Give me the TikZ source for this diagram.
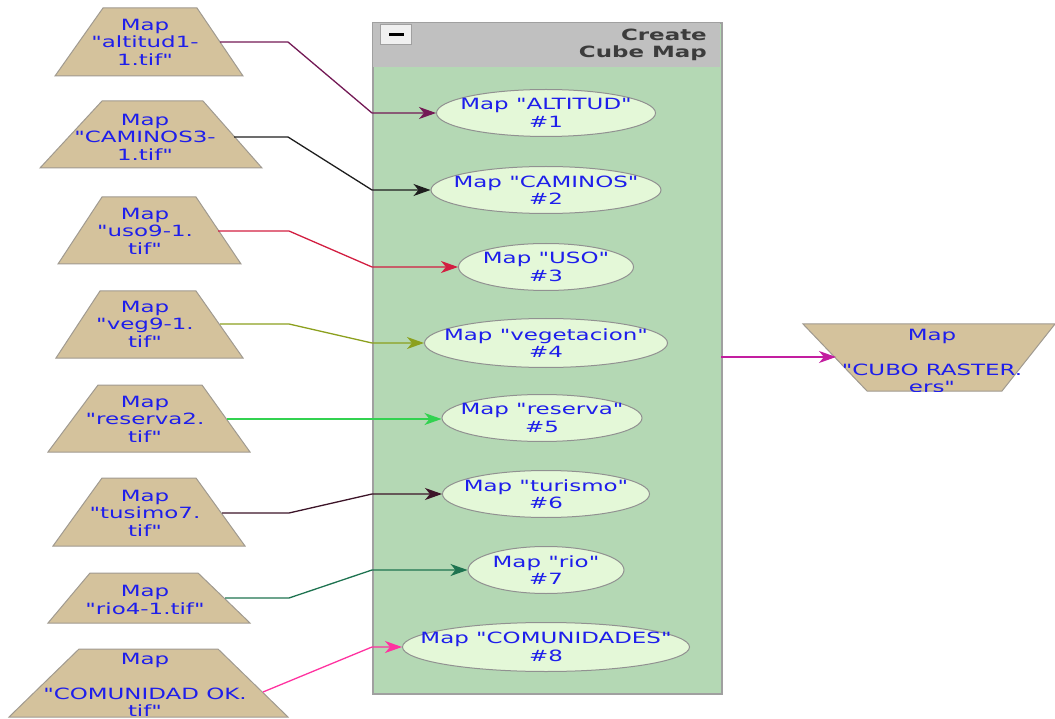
\documentclass[tikz,border=0pt]{standalone}
\usepackage{fontspec}
\setmainfont{DejaVu Sans}[FakeStretch=1.48,Ligatures=TeXOff]
\usetikzlibrary{arrows.meta,shapes.geometric}
\definecolor{trapfill}{RGB}{212,194,156}
\definecolor{trapline}{RGB}{160,154,144}
\definecolor{ellfill}{RGB}{228,248,216}
\definecolor{ellline}{RGB}{145,145,145}
\definecolor{boxfill}{RGB}{180,216,180}
\definecolor{boxhead}{RGB}{192,192,192}
\definecolor{boxline}{RGB}{160,160,160}
\definecolor{txtblue}{RGB}{30,30,235}
\definecolor{titlegray}{RGB}{60,60,60}
\definecolor{cA}{RGB}{115,25,85}
\definecolor{cB}{RGB}{30,30,30}
\definecolor{cC}{RGB}{210,30,65}
\definecolor{cD}{RGB}{140,160,30}
\definecolor{cE}{RGB}{50,210,80}
\definecolor{cF}{RGB}{60,20,40}
\definecolor{cG}{RGB}{30,115,80}
\definecolor{cH}{RGB}{255,50,160}
\definecolor{cOut}{RGB}{195,30,160}
\tikzset{
  trap/.style={fill=trapfill,draw=trapline,line width=1pt},
  lbl/.style={text=txtblue,align=center,inner sep=0pt,font=\fontsize{15.5}{17.5}\selectfont},
  ell/.style={ellipse,fill=ellfill,draw=ellline,line width=1pt,inner sep=0pt,minimum height=47pt},
  conn/.style={line width=1.3pt,-{Stealth[length=17pt,width=12pt,inset=5pt]}},
}
\begin{document}
\begin{tikzpicture}[x=1pt,y=-1pt]
\useasboundingbox (0,0) rectangle (1055,719);
% container
\node[fill=boxfill,draw=boxline,line width=2pt,minimum width=349pt,minimum height=671pt,anchor=north west,inner sep=0pt] (cube) at (372,22) {};
\fill[boxhead] (373,23) rectangle (720,67);
\node[fill=white!94!black,draw=boxline,line width=1pt,minimum width=31pt,minimum height=20pt,inner sep=0pt] (btn) at (396,35) {};
\draw[line width=3pt,black] (389,35) -- (404,35);
\node[text=titlegray,align=right,anchor=east,inner sep=0pt,font=\fontsize{15.5}{16.5}\selectfont\bfseries] (title) at (707,45) {Create\\Cube Map};
% input trapezoids
\path[trap] (103,8) -- (197,8) -- (243,76) -- (55,76) -- cycle;
\path[trap] (102,101) -- (203,101) -- (262,168) -- (40,168) -- cycle;
\path[trap] (102,197) -- (196,197) -- (241,264) -- (58,264) -- cycle;
\path[trap] (100,291) -- (196,291) -- (243,358) -- (56,358) -- cycle;
\path[trap] (98,385) -- (202,385) -- (250,452) -- (48,452) -- cycle;
\path[trap] (102,478) -- (196,478) -- (245,546) -- (53,546) -- cycle;
\path[trap] (90,573) -- (198,573) -- (250,623) -- (48,623) -- cycle;
\path[trap] (79,649) -- (218,649) -- (288,717) -- (9,717) -- cycle;
\node[lbl] (in1) at (145,42) {Map\\"altitud1-\\1.tif"};
\node[lbl] (in2) at (145,137) {Map\\"CAMINOS3-\\1.tif"};
\node[lbl] (in3) at (145,231) {Map\\"uso9-1.\\tif"};
\node[lbl] (in4) at (145,324) {Map\\"veg9-1.\\tif"};
\node[lbl] (in5) at (145,419) {Map\\"reserva2.\\tif"};
\node[lbl] (in6) at (145,513) {Map\\"tusimo7.\\tif"};
\node[lbl] (in7) at (145,600) {Map\\"rio4-1.tif"};
\node[lbl] (in8) at (145,685) {Map\\[17.5pt]"COMUNIDAD OK.\\tif"};
% output trapezoid
\path[trap] (803,324) -- (1055,324) -- (1002,391) -- (867,391) -- cycle;
\begin{scope}
\clip (780,300) rectangle (1055,391);
\node[lbl] (out) at (932,361) {Map\\[17.5pt]"CUBO RASTER.\\ers"};
\end{scope}
% ellipses
\node[ell,minimum width=219pt] (e1) at (546,113) {};
\node[ell,minimum width=230pt] (e2) at (546,190) {};
\node[ell,minimum width=175pt] (e3) at (546,267) {};
\node[ell,minimum width=243pt,minimum height=49pt] (e4) at (546,343) {};
\node[ell,minimum width=200pt] (e5) at (542,418) {};
\node[ell,minimum width=207pt] (e6) at (546,494) {};
\node[ell,minimum width=156pt] (e7) at (546,570) {};
\node[ell,minimum width=287pt,minimum height=49pt] (e8) at (546,647) {};
\node[lbl] (t1) at (e1) {Map "ALTITUD"\\\#1};
\node[lbl] (t2) at (e2) {Map "CAMINOS"\\\#2};
\node[lbl] (t3) at (e3) {Map "USO"\\\#3};
\node[lbl] (t4) at (e4) {Map "vegetacion"\\\#4};
\node[lbl] (t5) at (e5) {Map "reserva"\\\#5};
\node[lbl] (t6) at (e6) {Map "turismo"\\\#6};
\node[lbl] (t7) at (e7) {Map "rio"\\\#7};
\node[lbl] (t8) at (e8) {Map "COMUNIDADES"\\\#8};
% connector start points
\coordinate (s1) at (220,42);
\coordinate (s2) at (234,137);
\coordinate (s3) at (218,231);
\coordinate (s4) at (220,324);
\coordinate (s5) at (227,419);
\coordinate (s6) at (222,513);
\coordinate (s7) at (225,598);
\coordinate (s8) at (263,692);
\coordinate (co) at (721,357);
\coordinate (to) at (836,357);
% connectors
\draw[conn,cA] (s1) -- (288,42) -- (372,113) -- (e1.west);
\draw[conn,cB] (s2) -- (288,137) -- (372,190) -- (e2.west);
\draw[conn,cC] (s3) -- (289,231) -- (372,267) -- (e3.west);
\draw[conn,cD] (s4) -- (289,324) -- (372,343) -- (e4.west);
\draw[conn,cE] (s5) -- (e5.west |- s5);
\draw[conn,cF] (s6) -- (289,513) -- (372,494) -- (e6.west);
\draw[conn,cG] (s7) -- (289,598) -- (372,570) -- (e7.west);
\draw[conn,cH] (s8) -- (372,647) -- (e8.west);
\draw[conn,cOut] (co) -- (to);
\end{tikzpicture}
\end{document}
